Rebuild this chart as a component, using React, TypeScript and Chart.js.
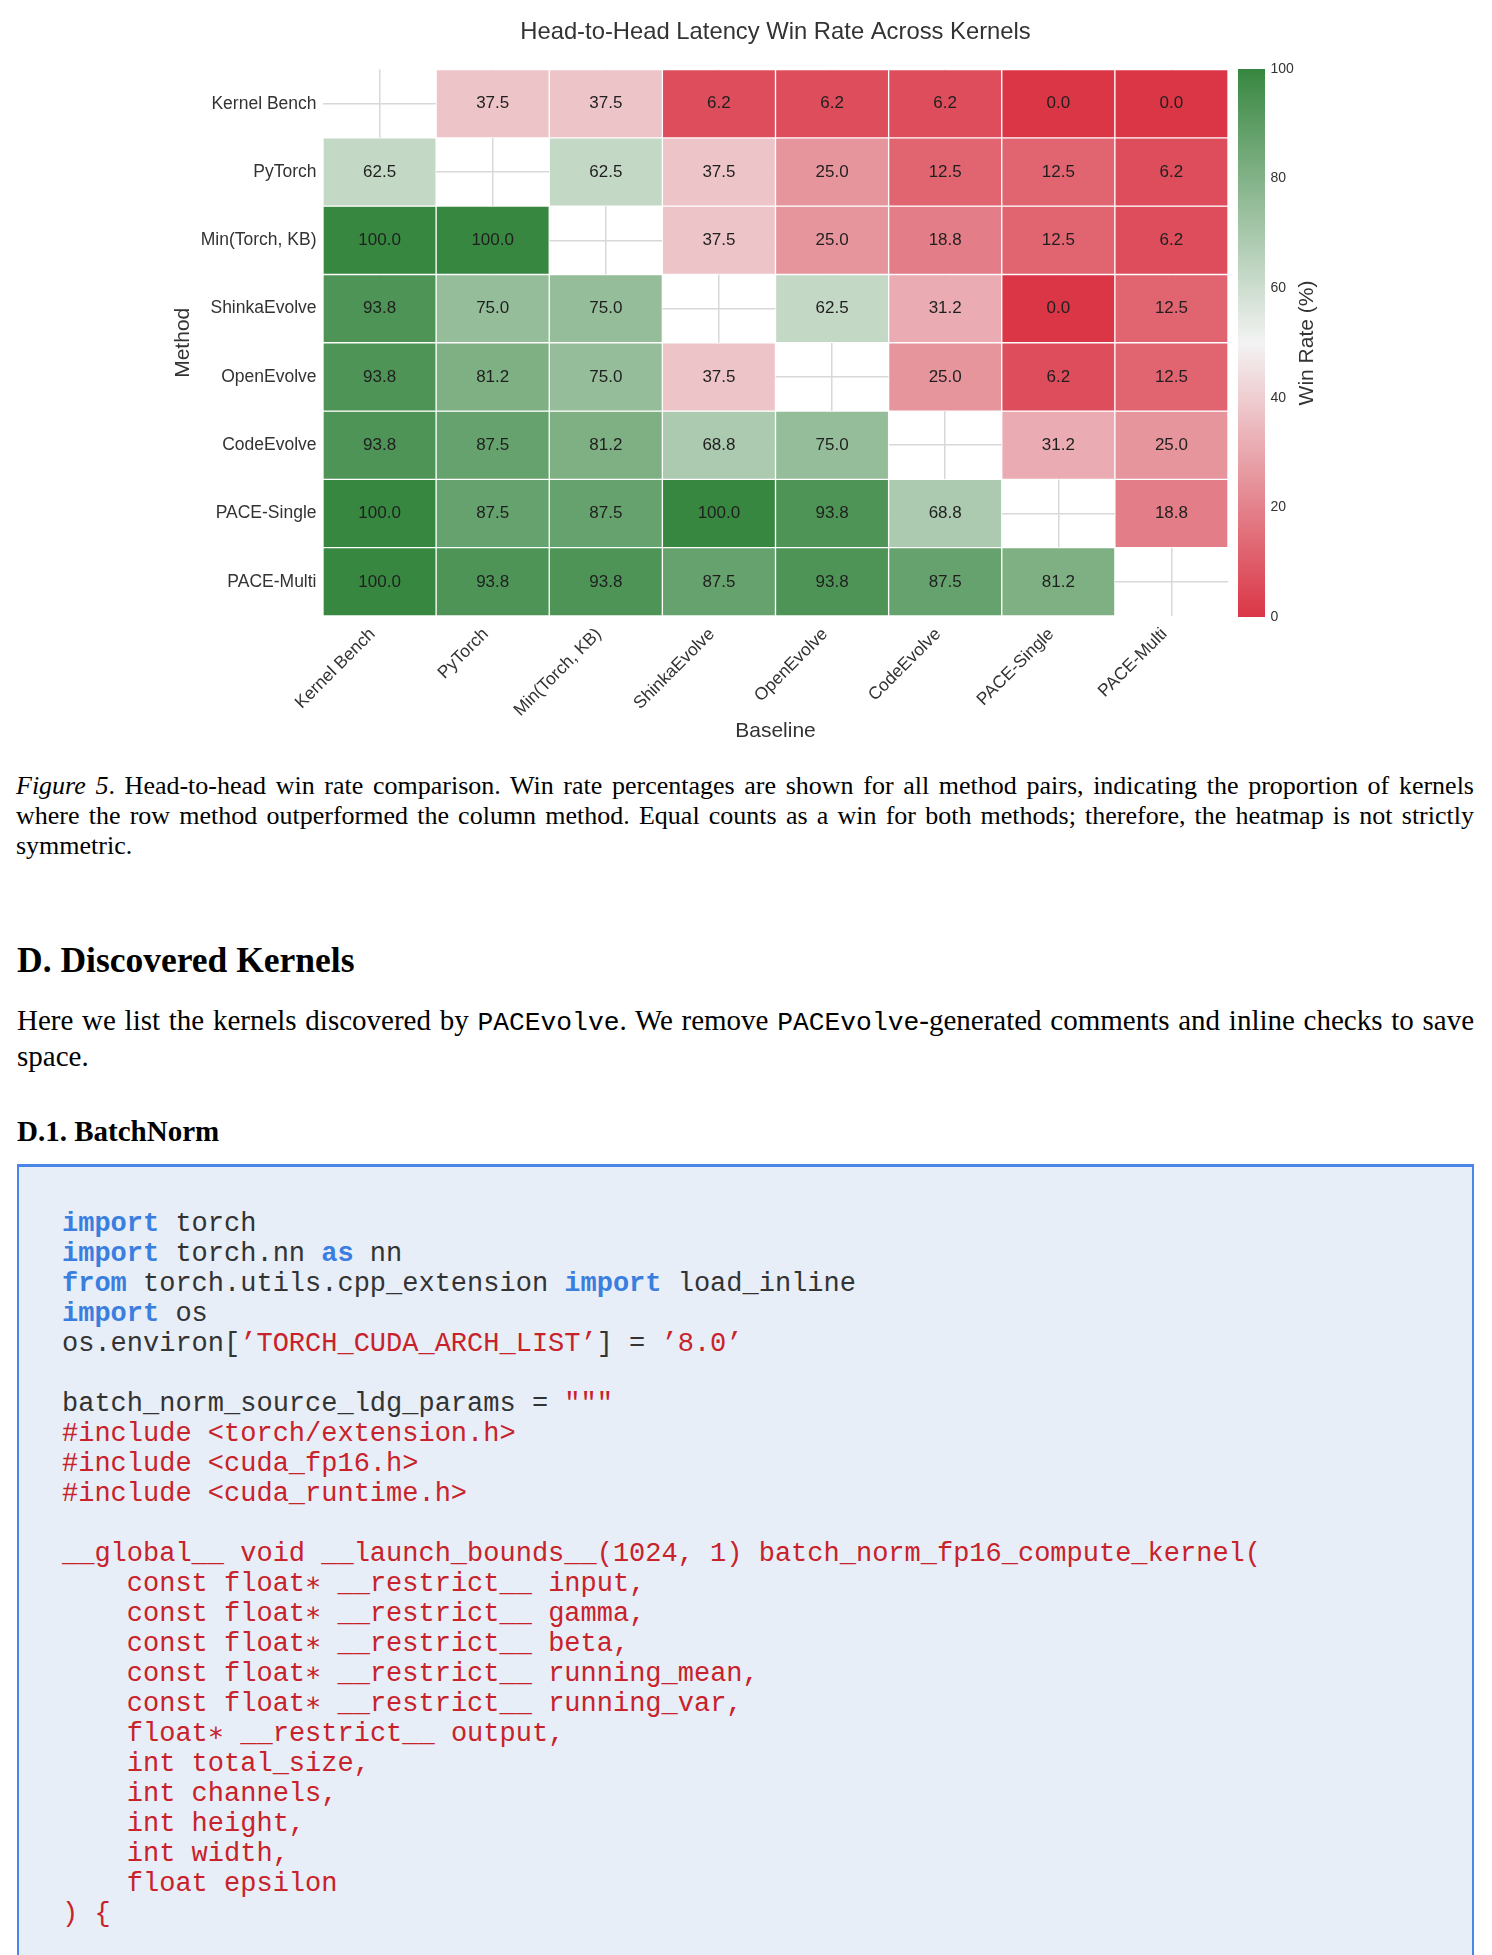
import React, { useEffect, useRef } from "react";
import { Chart, registerables } from "chart.js";

Chart.register(...registerables);

// ---------- DATA ----------
const methods = ["Kernel Bench", "PyTorch", "Min(Torch, KB)", "ShinkaEvolve", "OpenEvolve", "CodeEvolve", "PACE-Single", "PACE-Multi"];
const baselines = ["Kernel Bench", "PyTorch", "Min(Torch, KB)", "ShinkaEvolve", "OpenEvolve", "CodeEvolve", "PACE-Single", "PACE-Multi"];

const kernelBenchRow = [null, 37.5, 37.5, 6.2, 6.2, 6.2, 0.0, 0.0];
const pytorchRow = [62.5, null, 62.5, 37.5, 25.0, 12.5, 12.5, 6.2];
const minTorchKbRow = [100.0, 100.0, null, 37.5, 25.0, 18.8, 12.5, 6.2];
const shinkaEvolveRow = [93.8, 75.0, 75.0, null, 62.5, 31.2, 0.0, 12.5];
const openEvolveRow = [93.8, 81.2, 75.0, 37.5, null, 25.0, 6.2, 12.5];
const codeEvolveRow = [93.8, 87.5, 81.2, 68.8, 75.0, null, 31.2, 25.0];
const paceSingleRow = [100.0, 87.5, 87.5, 100.0, 93.8, 68.8, null, 18.8];
const paceMultiRow = [100.0, 93.8, 93.8, 87.5, 93.8, 87.5, 81.2, null];

const winRates: (number | null)[][] = [
  kernelBenchRow, pytorchRow, minTorchKbRow, shinkaEvolveRow,
  openEvolveRow, codeEvolveRow, paceSingleRow, paceMultiRow,
];

const colorbarMin = 0;
const colorbarMax = 100;
const colorbarStep = 20;

// ---------- STYLE ----------
const SANS = "'Liberation Sans', Arial, Helvetica, sans-serif";
const SERIF = "'Liberation Serif', 'Times New Roman', serif";
const MONO = "'Liberation Mono', 'DejaVu Sans Mono', monospace";
const RED = [218, 54, 70];
const MID = [243, 243, 243];
const GREEN = [55, 135, 64];
const rgb = (c: number[]) => `rgb(${c[0]}, ${c[1]}, ${c[2]})`;

function cmap(v: number): string {
  const t = (v - colorbarMin) / (colorbarMax - colorbarMin);
  let a: number[], b: number[], f: number;
  if (t < 0.5) { a = RED; b = MID; f = t / 0.5; } else { a = MID; b = GREEN; f = (t - 0.5) / 0.5; }
  return rgb(a.map((x, i) => Math.round(x + (b[i] - x) * f)));
}

Chart.defaults.font.family = SANS;

const cellLabelPlugin = {
  id: "cellLabels",
  afterDatasetsDraw(chart: any) {
    const ctx = chart.ctx;
    ctx.save();
    ctx.font = `17px ${SANS}`;
    ctx.fillStyle = "#1f1f1f";
    ctx.textAlign = "center";
    ctx.textBaseline = "middle";
    chart.data.datasets.forEach((_ds: any, di: number) => {
      const meta = chart.getDatasetMeta(di);
      meta.data.forEach((el: any, j: number) => {
        const v = winRates[di][j];
        if (v === null || v === undefined) return;
        const p = el.getCenterPoint();
        ctx.fillText(v.toFixed(1), p.x, p.y);
      });
    });
    ctx.restore();
  },
};

const cbTitlePlugin = {
  id: "cbTitle",
  afterDraw(chart: any) {
    const ctx = chart.ctx;
    const ca = chart.chartArea;
    ctx.save();
    ctx.translate(75, (ca.top + ca.bottom) / 2);
    ctx.rotate(-Math.PI / 2);
    ctx.font = `21px ${SANS}`;
    ctx.fillStyle = "#333";
    ctx.textAlign = "center";
    ctx.textBaseline = "middle";
    ctx.fillText("Win Rate (%)", 0, 0);
    ctx.restore();
  },
};

type Seg = [string, "n" | "k" | "s"];
const codeLines: Seg[][] = [
  [["import", "k"], [" torch", "n"]],
  [["import", "k"], [" torch.nn ", "n"], ["as", "k"], [" nn", "n"]],
  [["from", "k"], [" torch.utils.cpp_extension ", "n"], ["import", "k"], [" load_inline", "n"]],
  [["import", "k"], [" os", "n"]],
  [["os.environ[", "n"], ["\u2019TORCH_CUDA_ARCH_LIST\u2019", "s"], ["] = ", "n"], ["\u20198.0\u2019", "s"]],
  [],
  [["batch_norm_source_ldg_params = ", "n"], ["\"\"\"", "s"]],
  [["#include <torch/extension.h>", "s"]],
  [["#include <cuda_fp16.h>", "s"]],
  [["#include <cuda_runtime.h>", "s"]],
  [],
  [["__global__ void __launch_bounds__(1024, 1) batch_norm_fp16_compute_kernel(", "s"]],
  [["    const float\u2217 __restrict__ input,", "s"]],
  [["    const float\u2217 __restrict__ gamma,", "s"]],
  [["    const float\u2217 __restrict__ beta,", "s"]],
  [["    const float\u2217 __restrict__ running_mean,", "s"]],
  [["    const float\u2217 __restrict__ running_var,", "s"]],
  [["    float\u2217 __restrict__ output,", "s"]],
  [["    int total_size,", "s"]],
  [["    int channels,", "s"]],
  [["    int height,", "s"]],
  [["    int width,", "s"]],
  [["    float epsilon", "s"]],
  [[") {", "s"]],
];

const segStyle = (k: string): React.CSSProperties =>
  k === "k" ? { color: "#3a7ee0", fontWeight: "bold" } : k === "s" ? { color: "#c8222a" } : { color: "#333333" };

export default function App() {
  const heatRef = useRef<HTMLCanvasElement>(null);
  const cbRef = useRef<HTMLCanvasElement>(null);

  useEffect(() => {
    const datasets = winRates.map((row, i) => ({
      label: methods[i],
      data: row.map((v) => (v === null ? null : [i - 0.5, i + 0.5])),
      backgroundColor: row.map((v) => (v === null ? "rgba(0,0,0,0)" : cmap(v))),
      borderColor: "#ffffff",
      borderWidth: 1,
      borderSkipped: false,
      grouped: false,
      categoryPercentage: 1,
      barPercentage: 1,
    }));

    const heat = new Chart(heatRef.current as HTMLCanvasElement, {
      type: "bar",
      data: { labels: baselines, datasets: datasets as any },
      options: {
        animation: false,
        responsive: false,
        maintainAspectRatio: false,
        layout: { padding: { left: 0, right: 4, top: 0, bottom: 0 } },
        plugins: {
          legend: { display: false },
          tooltip: { enabled: false },
          title: {
            display: true,
            fullSize: false,
            text: "Head-to-Head Latency Win Rate Across Kernels",
            color: "#333",
            font: { family: SANS, size: 23.8, weight: "normal" },
            padding: { top: 18, bottom: 23 },
          },
        },
        scales: {
          x: {
            type: "category",
            offset: true,
            grid: { offset: false, drawTicks: false, color: "#d8d8d8", lineWidth: 1.5 },
            border: { display: false },
            ticks: {
              color: "#333",
              font: { family: SANS, size: 17.5 },
              minRotation: 45,
              maxRotation: 45,
              autoSkip: false,
              padding: 8,
              labelOffset: -7,
            },
            title: {
              display: true,
              text: "Baseline",
              color: "#333",
              font: { family: SANS, size: 21 },
              padding: { top: 0, bottom: 16.4 },
            },
            afterFit: (s: any) => { s.height = 144; },
          },
          y: {
            type: "linear",
            min: -0.5,
            max: methods.length - 0.5,
            reverse: true,
            afterBuildTicks: (s: any) => { s.ticks = methods.map((_m, i) => ({ value: i })); },
            grid: { drawTicks: false, color: "#d8d8d8", lineWidth: 1.5 },
            border: { display: false },
            ticks: {
              color: "#333",
              font: { family: SANS, size: 17.5 },
              padding: 6.5,
              callback: (v: any) => methods[Number(v)] ?? "",
            },
            title: {
              display: true,
              text: "Method",
              color: "#333",
              font: { family: SANS, size: 21 },
              padding: { top: 20.4, bottom: 0 },
            },
            afterFit: (s: any) => { s.width = 173; },
          },
        },
      } as any,
      plugins: [cellLabelPlugin],
    });

    const cb = new Chart(cbRef.current as HTMLCanvasElement, {
      type: "bar",
      data: {
        labels: [""],
        datasets: [
          {
            data: [[colorbarMin, colorbarMax]] as any,
            backgroundColor: (c: any) => {
              const ca = c.chart.chartArea;
              if (!ca) return rgb(RED);
              const g = c.chart.ctx.createLinearGradient(0, ca.bottom, 0, ca.top);
              g.addColorStop(0, rgb(RED));
              g.addColorStop(0.5, rgb(MID));
              g.addColorStop(1, rgb(GREEN));
              return g;
            },
            borderWidth: 0,
            categoryPercentage: 1,
            barPercentage: 1,
          },
        ],
      },
      options: {
        animation: false,
        responsive: false,
        maintainAspectRatio: false,
        layout: { padding: { left: 6, right: 0, top: 69, bottom: 143 } },
        plugins: { legend: { display: false }, tooltip: { enabled: false } },
        scales: {
          x: { display: false },
          y: {
            position: "right",
            min: colorbarMin,
            max: colorbarMax,
            grid: { display: false, drawTicks: false },
            border: { display: false },
            ticks: { stepSize: colorbarStep, color: "#333", font: { family: SANS, size: 14 }, padding: 5.5 },
            afterFit: (s: any) => { s.width = 227; },
          },
        },
      } as any,
      plugins: [cbTitlePlugin],
    });

    return () => { heat.destroy(); cb.destroy(); };
  }, []);

  const justify: React.CSSProperties = { textAlign: "justify", textAlignLast: "justify" as any, whiteSpace: "normal" };
  const tt: React.CSSProperties = { fontFamily: MONO, fontSize: 26.3, lineHeight: 1, verticalAlign: "baseline" };

  return (
    <div style={{ position: "absolute", left: 0, top: 0, width: 1492, height: 1955, overflow: "hidden", background: "#fff", color: "#000" }}>
      <canvas ref={heatRef} width={1082} height={760} style={{ position: "absolute", left: 150, top: 0, width: 1082, height: 760 }} />
      <canvas ref={cbRef} width={260} height={760} style={{ position: "absolute", left: 1232, top: 0, width: 260, height: 760 }} />

      <div style={{ position: "absolute", left: 16, top: 771, width: 1458, fontFamily: SERIF, fontSize: 26, lineHeight: "30px" }}>
        <div style={justify}><i>Figure 5</i>. Head-to-head win rate comparison. Win rate percentages are shown for all method pairs, indicating the proportion of kernels</div>
        <div style={justify}>where the row method outperformed the column method. Equal counts as a win for both methods; therefore, the heatmap is not strictly</div>
        <div>symmetric.</div>
      </div>

      <div style={{ position: "absolute", left: 17, top: 939, fontFamily: SERIF, fontSize: 35.5, fontWeight: "bold", lineHeight: "42px", whiteSpace: "nowrap" }}>
        D. Discovered Kernels
      </div>

      <div style={{ position: "absolute", left: 17, top: 1002, width: 1457, fontFamily: SERIF, fontSize: 29, lineHeight: "36px" }}>
        <div style={{ ...justify, height: 36 }}>Here we list the kernels discovered by <span style={tt}>PACEvolve</span>. We remove <span style={tt}>PACEvolve</span>-generated comments and inline checks to save</div>
        <div style={{ height: 36 }}>space.</div>
      </div>

      <div style={{ position: "absolute", left: 17, top: 1113, fontFamily: SERIF, fontSize: 29, fontWeight: "bold", lineHeight: "36px", whiteSpace: "nowrap" }}>
        D.1. BatchNorm
      </div>

      <div style={{ position: "absolute", left: 17, top: 1164, width: 1457, height: 900, boxSizing: "border-box", background: "#e7eef8", borderTop: "3px solid #4a86e8", borderLeft: "2px solid #4a86e8", borderRight: "2px solid #4a86e8", paddingTop: 42, paddingLeft: 43 }}>
        {codeLines.map((line, i) => (
          <div key={i} style={{ fontFamily: MONO, fontSize: 27, lineHeight: "30px", height: 30, whiteSpace: "pre" }}>
            {line.map((seg, j) => (
              <span key={j} style={segStyle(seg[1])}>{seg[0]}</span>
            ))}
          </div>
        ))}
      </div>
    </div>
  );
}
